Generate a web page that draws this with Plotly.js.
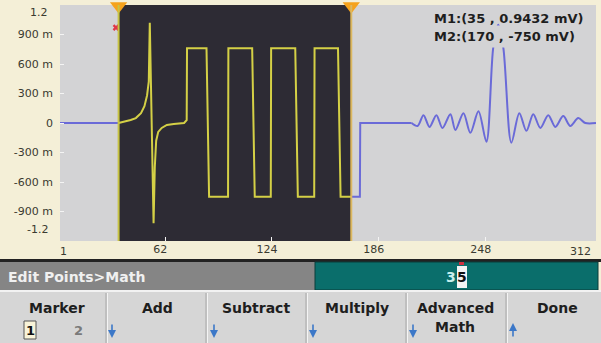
<!DOCTYPE html>
<html>
<head>
<meta charset="utf-8">
<script src="https://cdn.plot.ly/plotly-3.0.1.min.js"></script>
<style>html,body{margin:0;padding:0;background:#f4efd7;} #chart{width:601px;height:343px;}</style>
</head>
<body>
<div id="chart"></div>
<script>
// ---- data (point index, volts) ----
const leftIdx = [1, 35];
const leftVal = [0, 0];

const editIdx = [35, 38, 42, 45, 48, 50, 51.5, 52.5, 53.1, 55.3, 56.0, 56.8, 58, 60, 63, 67, 73, 74.5, 74.7,
  86, 87.5, 98.5, 98.7, 112.5, 114, 123.3, 123.5, 137.5, 139, 148.5, 148.7, 162.3, 163.8, 170];
const editVal = [0.00, 0.01, 0.03, 0.05, 0.10, 0.17, 0.28, 0.42, 1.02, -1.02, -0.45, -0.18, -0.09, -0.05, -0.02, -0.01, 0.00, 0.03, 0.76,
  0.76, -0.75, -0.75, 0.76, 0.76, -0.75, -0.75, 0.76, 0.76, -0.75, -0.75, 0.76, 0.76, -0.75, -0.75];

const stepIdx = [170, 175, 175.2, 205];
const stepVal = [-0.75, -0.75, 0.00, 0.00];

const sincIdx = [205, 208.5, 211.9, 215.4, 219.4, 222.9, 227.5, 230.4, 235.1, 239.1, 243.8, 248.4, 252.4, 255.3,
  258.2, 262.9, 267.5, 271.6, 275.6, 279.7, 284.3, 288.4, 293, 297.1, 301.7, 305.8, 312];
const sincVal = [0.00, -0.03, 0.08, -0.04, 0.08, -0.05, 0.09, -0.07, 0.10, -0.10, 0.12, -0.19, 0.77, 1.00,
  0.77, -0.20, 0.10, -0.08, 0.09, -0.05, 0.08, -0.04, 0.07, -0.03, 0.05, 0.00, 0.00];

const markerIdx = [35, 170];
const m1Point = {idx: 33.5, val: 0.97};

const xTickVals = [62, 124, 186, 248];
const xTickText = ['62', '124', '186', '248'];
const yTickVals = [-0.9, -0.6, -0.3, 0, 0.3, 0.6, 0.9];
const yTickText = ['-900 m', '-600 m', '-300 m', '0', '300 m', '600 m', '900 m'];

const m1Text = 'M1:(35 , 0.9432 mV)';
const m2Text = 'M2:(170 , -750 mV)';
const buttons = ['Marker', 'Add', 'Subtract', 'Multiply', 'Advanced<br>Math', 'Done'];

// ---- layout helpers ----
const W = 601, H = 343;
const px = x => x / W;
const py = y => 1 - y / H;
const FONT = 'DejaVu Sans';

const traces = [
  {x: leftIdx, y: leftVal, mode: 'lines', line: {color: '#6a6ad8', width: 2}, hoverinfo: 'skip'},
  {x: editIdx, y: editVal, mode: 'lines', line: {color: '#d4d046', width: 2}, hoverinfo: 'skip'},
  {x: stepIdx, y: stepVal, mode: 'lines', line: {color: '#6a6ad8', width: 2}, hoverinfo: 'skip'},
  {x: sincIdx, y: sincVal, mode: 'lines', line: {color: '#6a6ad8', width: 2, shape: 'spline', smoothing: 0.9}, hoverinfo: 'skip'},
  {x: markerIdx, y: [1.19, 1.19], mode: 'markers', cliponaxis: false,
   marker: {symbol: 'triangle-down', size: 15, color: '#f5a21c', line: {width: 0}}, hoverinfo: 'skip'},
  {x: [m1Point.idx], y: [m1Point.val], mode: 'markers', cliponaxis: false,
   marker: {symbol: 'x', size: 6, color: '#e03848', line: {width: 0}}, hoverinfo: 'skip'}
];

const shapes = [
  {type: 'rect', xref: 'x', yref: 'paper', x0: markerIdx[0], x1: markerIdx[1], y0: py(241), y1: py(5),
   fillcolor: '#2d2b34', line: {width: 0}, layer: 'below'},
  {type: 'line', xref: 'x', yref: 'paper', x0: markerIdx[0], x1: markerIdx[0], y0: py(241), y1: py(5),
   line: {color: '#c8c444', width: 2}},
  {type: 'line', xref: 'x', yref: 'paper', x0: markerIdx[1], x1: markerIdx[1], y0: py(241), y1: py(5),
   line: {color: '#dcb860', width: 2}},
  // bottom UI
  {type: 'rect', xref: 'paper', yref: 'paper', x0: 0, x1: 1, y0: py(262), y1: py(259), fillcolor: '#222222', line: {width: 0}},
  {type: 'rect', xref: 'paper', yref: 'paper', x0: 0, x1: px(315), y0: py(290), y1: py(262), fillcolor: '#858585', line: {width: 0}},
  {type: 'rect', xref: 'paper', yref: 'paper', x0: px(315), x1: px(598), y0: py(290), y1: py(262), fillcolor: '#0a6e6b', line: {color: '#0a3c3a', width: 1}},
  {type: 'rect', xref: 'paper', yref: 'paper', x0: 0, x1: 1, y0: py(292), y1: py(290), fillcolor: '#f2f2f2', line: {width: 0}},
  {type: 'rect', xref: 'paper', yref: 'paper', x0: 0, x1: 1, y0: 0, y1: py(292), fillcolor: '#d6d6d6', line: {width: 0}},
  // cursor box
  {type: 'rect', xref: 'paper', yref: 'paper', x0: px(457), x1: px(467), y0: py(288), y1: py(266), fillcolor: '#f4f4f4', line: {width: 0}},
  {type: 'rect', xref: 'paper', yref: 'paper', x0: px(459), x1: px(464), y0: py(265), y1: py(262), fillcolor: '#d03040', line: {width: 0}},
  // marker "1" box
  {type: 'rect', xref: 'paper', yref: 'paper', x0: px(24), x1: px(36), y0: py(339), y1: py(321), fillcolor: '#f8f3d8', line: {color: '#555555', width: 1}}
];
[106, 206, 306, 406, 506].forEach(sx => {
  shapes.push({type: 'line', xref: 'paper', yref: 'paper', x0: px(sx), x1: px(sx), y0: 0, y1: py(293), line: {color: '#a8a8a8', width: 1}});
  shapes.push({type: 'line', xref: 'paper', yref: 'paper', x0: px(sx + 1.5), x1: px(sx + 1.5), y0: 0, y1: py(293), line: {color: '#f4f4f4', width: 1}});
});

const axFont = {family: FONT, size: 11, color: '#3a3a30'};
const ann = [];
function txt(t, x, y, size, color, xanchor, extra) {
  ann.push(Object.assign({xref: 'paper', yref: 'paper', x: px(x), y: py(y), text: t, showarrow: false,
    xanchor: xanchor || 'center', yanchor: 'middle', font: {family: FONT, size: size, color: color}}, extra || {}));
}
// end labels of axes
txt('1.2', 50, 13, 11, '#3a3a30', 'right');
txt('-1.2', 50, 229, 11, '#3a3a30', 'right');
txt('1', 63, 251, 11, '#3a3a30', 'center');
txt('312', 580, 251, 11, '#3a3a30', 'center');
// marker readouts
txt('<b>' + m1Text + '</b>', 432, 19, 13, '#1e1e1e', 'left');
txt('<b>' + m2Text + '</b>', 430, 37, 13, '#1e1e1e', 'left', {bgcolor: '#d3d3d5', borderpad: 3});
// edit bar
txt('<b>Edit Points&gt;Math</b>', 6, 277, 14, '#f0f0f0', 'left');
txt('<b>3</b>', 451, 277, 14, '#c8f0ee', 'center');
txt('<b>5</b>', 462, 277, 14, '#111111', 'center');
// softkeys
const btnX = [57, 157, 256, 357, 455, 557];
buttons.forEach((b, i) => {
  if (b.indexOf('<br>') >= 0) {
    const parts = b.split('<br>');
    txt('<b>' + parts[0] + '</b>', btnX[i], 308, 14, '#1e1e1e');
    txt('<b>' + parts[1] + '</b>', btnX[i], 327, 14, '#1e1e1e');
  } else {
    txt('<b>' + b + '</b>', btnX[i], 308, 14, '#1e1e1e');
  }
});
txt('<b>1</b>', 30, 330, 13, '#111111');
txt('<b>2</b>', 78, 330, 13, '#7a7a7a');
// arrows
[112, 214, 313, 413].forEach(ax => {
  ann.push({xref: 'paper', yref: 'paper', x: px(ax), y: py(338), ax: 0, ay: -15, text: '', showarrow: true,
    arrowhead: 2, arrowsize: 1, arrowwidth: 1.6, arrowcolor: '#3c78c8', standoff: 0});
});
ann.push({xref: 'paper', yref: 'paper', x: px(513), y: py(323), ax: 0, ay: 15, text: '', showarrow: true,
  arrowhead: 2, arrowsize: 1, arrowwidth: 1.6, arrowcolor: '#3c78c8', standoff: 0});

const layout = {
  width: W, height: H,
  margin: {l: 0, r: 0, t: 0, b: 0},
  paper_bgcolor: '#f4efd7',
  plot_bgcolor: '#d3d3d5',
  showlegend: false,
  xaxis: {domain: [px(60), px(596)], range: [1, 312], tickvals: xTickVals, ticktext: xTickText,
    ticks: 'inside', ticklen: 4, tickcolor: '#f4f4f4', tickwidth: 1, showgrid: false, zeroline: false, showline: false,
    tickfont: axFont, ticklabelshift: -5, fixedrange: true},
  yaxis: {domain: [py(241), py(5)], range: [-1.2, 1.2], tickvals: yTickVals, ticktext: yTickText,
    ticks: 'inside', ticklen: 4, tickcolor: '#f4f4f4', tickwidth: 1, showgrid: false, zeroline: false, showline: false,
    tickfont: axFont, ticklabelstandoff: 6, fixedrange: true},
  shapes: shapes,
  annotations: ann
};

Plotly.newPlot('chart', traces, layout, {displayModeBar: false, staticPlot: true});
</script>
</body>
</html>
